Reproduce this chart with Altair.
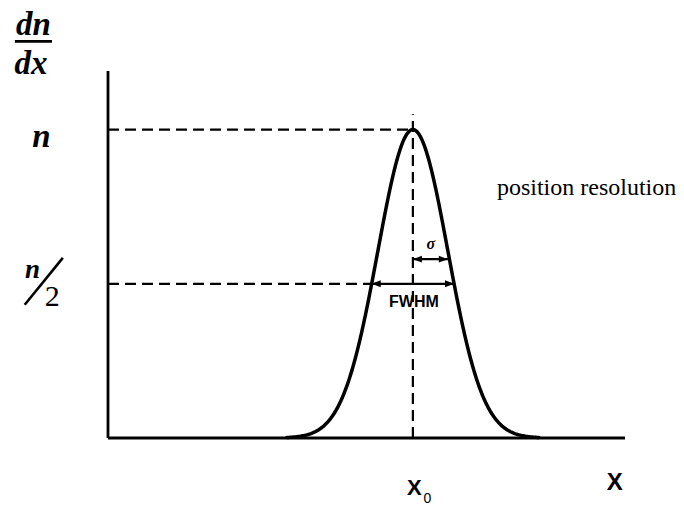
import altair as alt
import numpy as np
import pandas as pd

# Gaussian response: centre, width and peak height (sigma = 1 unit)
x0 = 0.0
sigma = 1.0
peak = 1.0
tail = 3.6            # curve drawn out to +/- 3.6 sigma
half_width = sigma * np.sqrt(2 * np.log(2))   # HWHM

# axis extents
x_min, x_max = -8.71, 6.06
y_min, y_max = 0.0, 1.19

xs = np.linspace(x0 - tail * sigma, x0 + tail * sigma, 241)
curve = pd.DataFrame({"x": xs, "y": peak * np.exp(-0.5 * ((xs - x0) / sigma) ** 2)})

X = alt.X("x:Q", scale=alt.Scale(domain=[x_min, x_max], nice=False, zero=False), axis=None)
Y = alt.Y("y:Q", scale=alt.Scale(domain=[y_min, y_max], nice=False, zero=False), axis=None)


def segs(rows):
    return pd.DataFrame(rows, columns=["x", "y", "x2", "y2"])


# axes
axes = alt.Chart(segs([
    [x_min, y_min, x_min, y_max],
    [x_min, y_min, x_max, y_min],
])).mark_rule(color="black", strokeWidth=2.8).encode(x=X, y=Y, x2="x2:Q", y2="y2:Q")

# dashed guides: peak level, half level, centre line
guides = alt.Chart(segs([
    [x_min, peak, x0, peak],
    [x_min, peak / 2, x0 - half_width, peak / 2],
    [x0, 0.0, x0, 1.05],
])).mark_rule(color="black", strokeWidth=2.2, strokeDash=[11, 6]).encode(
    x=X, y=Y, x2="x2:Q", y2="y2:Q")

# sigma and FWHM arrows
sigma_level = 0.58
arrows = alt.Chart(segs([
    [x0 - half_width, peak / 2, x0 + half_width, peak / 2],
    [x0, sigma_level, x0 + sigma, sigma_level],
])).mark_rule(color="black", strokeWidth=2.2).encode(x=X, y=Y, x2="x2:Q", y2="y2:Q")

heads = pd.DataFrame({
    "x": [x0 - half_width, x0 + half_width, x0, x0 + sigma],
    "y": [peak / 2, peak / 2, sigma_level, sigma_level],
    "dir": ["l", "r", "l", "r"],
})
head_r = alt.Chart(heads[heads.dir == "r"]).mark_point(
    shape="M0,0 L-1,-0.38 L-1,0.38 Z", filled=True, color="black", opacity=1, size=330
).encode(x=X, y=Y)
head_l = alt.Chart(heads[heads.dir == "l"]).mark_point(
    shape="M0,0 L1,-0.38 L1,0.38 Z", filled=True, color="black", opacity=1, size=330
).encode(x=X, y=Y)

line = alt.Chart(curve).mark_line(color="black", strokeWidth=3.5, strokeCap="round").encode(x=X, y=Y)

# fraction bars for dn/dx and n/2
frac = alt.Chart(segs([
    [-11.37, 1.286, -10.31, 1.286],
    [-11.09, 0.432, -10.0, 0.584],
])).mark_rule(color="black", strokeWidth=2.6).encode(x=X, y=Y, x2="x2:Q", y2="y2:Q")


def label(text, x, y, size, font, style="normal", weight="normal", align="center"):
    return alt.Chart(pd.DataFrame({"x": [x], "y": [y], "t": [text]})).mark_text(
        font=font, fontSize=size, fontStyle=style, fontWeight=weight,
        align=align, baseline="alphabetic", color="black",
    ).encode(x=X, y=Y, text="t:N")


serif = "Liberation Serif"
sans = "Liberation Sans"

labels = [
    label("dn", -10.84, 1.308, 33, serif, "italic", "bold"),
    label("dx", -10.91, 1.179, 33, serif, "italic", "bold"),
    label("n", -10.61, 0.945, 33, serif, "italic", "bold"),
    label("n", -10.87, 0.519, 27, serif, "italic", "bold"),
    label("2", -10.3, 0.429, 30, serif),
    label("σ", 0.514, 0.612, 16, serif, "italic", "bold"),
    label("FWHM", 0.03, 0.425, 16, sans, weight="bold"),
    label("X", 0.043, -0.185, 22, sans, weight="bold"),
    label("0", 0.414, -0.211, 14, sans),
    label("X", 5.77, -0.169, 24, sans, weight="bold"),
    label("position resolution", 2.4, 0.789, 24, serif, align="left"),
]

chart = alt.layer(axes, guides, arrows, head_r, head_l, line, frac, *labels).properties(
    width=517, height=367,
    autosize=alt.AutoSizeParams(type="none"),
    padding={"left": 108, "top": 71, "right": 59, "bottom": 69},
    background="white",
).configure_view(stroke=None, clip=False)

chart.save("out.html", embed_options={"renderer": "svg", "actions": False})
